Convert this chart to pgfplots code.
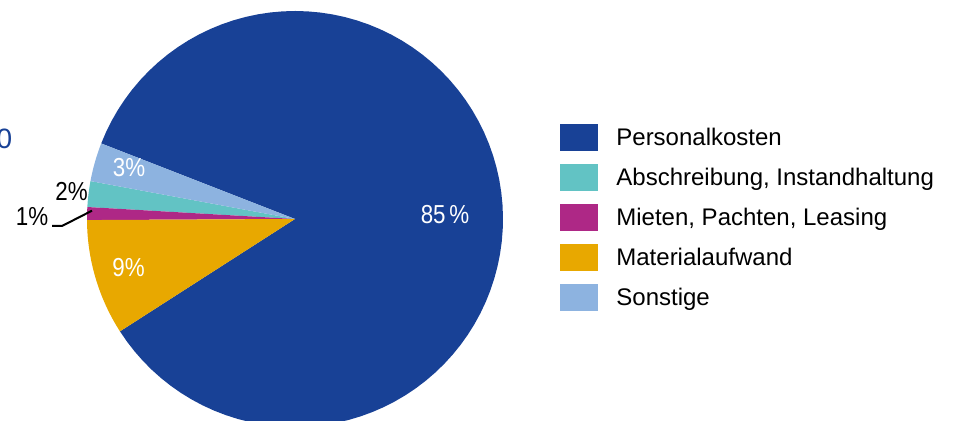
\documentclass[border=0pt]{standalone}
\usepackage{pgfplots}
\pgfplotsset{compat=1.18}
\usepackage{graphicx}
\usepackage{fontspec}
\setmainfont{Liberation Sans}

\definecolor{cPers}{RGB}{24,65,150}
\definecolor{cAbs}{RGB}{98,195,196}
\definecolor{cMiet}{RGB}{174,40,134}
\definecolor{cMat}{RGB}{232,168,0}
\definecolor{cSons}{RGB}{141,179,224}

% shares in percent
\def\pPers{85}
\def\pAbs{2}
\def\pMiet{1}
\def\pMat{9}
\def\pSons{3}

\newcommand{\lbl}[1]{\scalebox{0.86}[1]{#1}}

\begin{document}
\begin{tikzpicture}
% angles (counterclockwise), starting at the Personal/Material border
\pgfmathsetmacro{\aA}{212.7}
\pgfmathsetmacro{\aB}{\aA+3.6*\pPers}
\pgfmathsetmacro{\aC}{\aB+3.6*\pSons}
\pgfmathsetmacro{\aD}{\aC+3.6*\pAbs}
\pgfmathsetmacro{\aE}{\aD+3.6*\pMiet}
\pgfmathsetmacro{\aF}{\aE+3.6*\pMat}
\begin{axis}[
  scale only axis, width=477.5pt, height=210.5pt,
  xmin=0, xmax=955, ymin=0, ymax=421,
  hide axis,
  legend cell align=left,
  legend style={at={(axis cs:560,297)}, anchor=north west, draw=none, fill=none,
    inner sep=0pt, row sep=6.5pt, font=\fontsize{12}{12}\selectfont,
    nodes={inner sep=0pt}},
  /tikz/every odd column/.append style={column sep=9pt},
  legend image code/.code={\fill[#1] (0pt,-6.75pt) rectangle (19pt,6.75pt);},
  samples=90, variable=\t,
]
\addplot[draw=none, fill=cPers, domain=\aA:\aB] ({295+208*cos(t)},{202+208*sin(t)}) -- (axis cs:295,202) -- cycle;
\addlegendentry{Personalkosten}
\addplot[draw=none, fill=cAbs, domain=\aC:\aD] ({295+208*cos(t)},{202+208*sin(t)}) -- (axis cs:295,202) -- cycle;
\addlegendentry{Abschreibung, Instandhaltung}
\addplot[draw=none, fill=cMiet, domain=\aD:\aE] ({295+208*cos(t)},{202+208*sin(t)}) -- (axis cs:295,202) -- cycle;
\addlegendentry{Mieten, Pachten, Leasing}
\addplot[draw=none, fill=cMat, domain=\aE:\aF] ({295+208*cos(t)},{202+208*sin(t)}) -- (axis cs:295,202) -- cycle;
\addlegendentry{Materialaufwand}
\addplot[draw=none, fill=cSons, domain=\aB:\aC] ({295+208*cos(t)},{202+208*sin(t)}) -- (axis cs:295,202) -- cycle;
\addlegendentry{Sonstige}

\node[white, font=\fontsize{13}{13}\selectfont] at (axis cs:445,206) {\lbl{85\,\%}};
\node[white, font=\fontsize{13}{13}\selectfont] at (axis cs:129,253) {\lbl{3\%}};
\node[white, font=\fontsize{13}{13}\selectfont] at (axis cs:128.5,153.5) {\lbl{9\%}};
\node[black, font=\fontsize{13}{13}\selectfont] at (axis cs:71.5,229.5) {\lbl{2\%}};
\node[black, font=\fontsize{13}{13}\selectfont] at (axis cs:32,204) {\lbl{1\%}};
\draw[black, line width=1pt] (axis cs:52,195) -- (axis cs:62,195) -- (axis cs:92,210.3);
\node[anchor=east, inner sep=0pt, text=cPers, font=\fontsize{14}{14}\selectfont] at (axis cs:12.5,282.5) {0};
\end{axis}
\pgfresetboundingbox
\path (0,0) rectangle (477.5pt,210.5pt);
\end{tikzpicture}
\end{document}
